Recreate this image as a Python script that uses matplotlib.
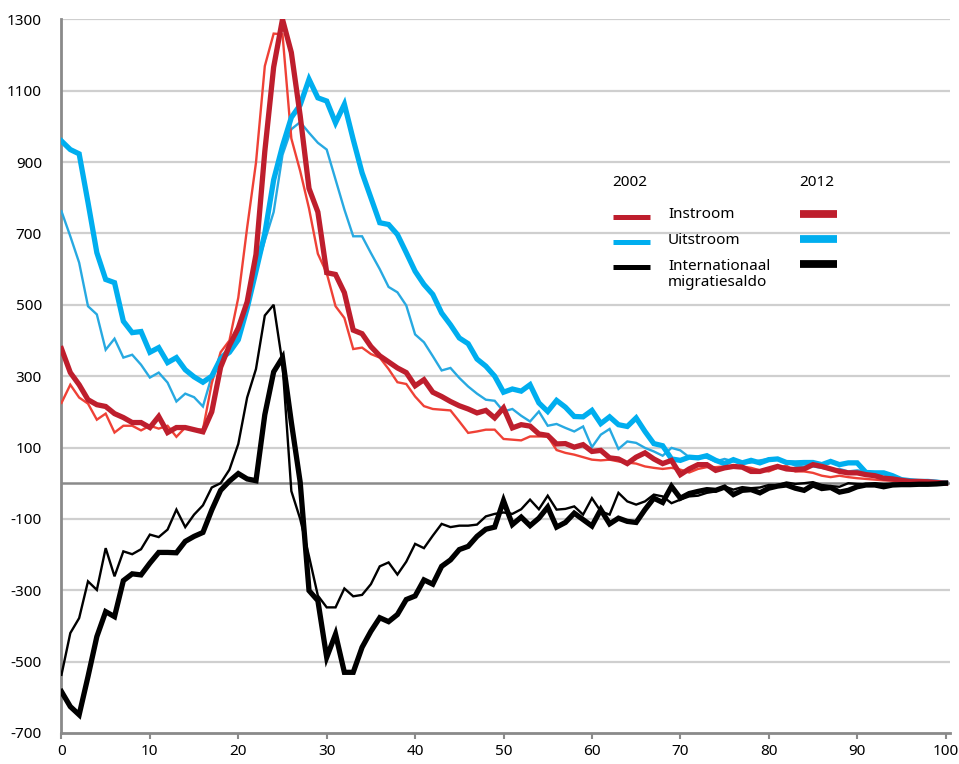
import matplotlib
matplotlib.use("Agg")
import matplotlib.pyplot as plt
from matplotlib.lines import Line2D
import numpy as np

plt.rcParams['font.family'] = ['Noto Sans', 'DejaVu Sans']

ages = list(range(0, 101))

instroom_2002 = [225, 276, 240, 223, 178, 195, 142, 161, 161, 148,
                 161, 153, 161, 130, 156, 150, 150, 280, 367, 400,
                 520, 716, 898, 1169, 1260, 1258, 966, 875, 770, 643,
                 589, 496, 463, 376, 380, 362, 352, 320, 283, 278,
                 243, 216, 208, 206, 204, 173, 141, 145, 150, 150,
                 124, 122, 120, 131, 131, 131, 93, 85, 80, 73,
                 66, 64, 66, 61, 58, 55, 47, 43, 40, 43,
                 38, 30, 40, 45, 45, 47, 45, 47, 43, 36,
                 33, 43, 49, 33, 33, 29, 21, 17, 21, 17,
                 14, 12, 10, 8, 7, 5, 4, 3, 2, 1, 0]

instroom_2012 = [377, 310, 276, 234, 220, 215, 195, 184, 170, 170,
                 156, 187, 142, 156, 156, 150, 144, 200, 325, 386,
                 435, 508, 641, 930, 1166, 1300, 1207, 1030, 826, 760,
                 590, 585, 534, 429, 419, 383, 357, 340, 323, 310,
                 273, 290, 255, 243, 229, 217, 208, 197, 204, 183,
                 211, 155, 164, 160, 138, 134, 110, 111, 101, 108,
                 89, 92, 71, 68, 55, 73, 85, 68, 55, 64,
                 24, 40, 52, 52, 36, 43, 47, 45, 33, 33,
                 40, 47, 40, 38, 40, 52, 47, 40, 33, 29,
                 29, 24, 21, 14, 12, 8, 5, 5, 4, 2, 0]

uitstroom_2002 = [762, 692, 618, 496, 473, 374, 405, 352, 360, 332,
                  296, 310, 282, 229, 251, 241, 215, 300, 355, 380,
                  410, 487, 597, 680, 760, 920, 992, 1012, 982, 954,
                  935, 851, 767, 692, 692, 645, 600, 550, 535, 498,
                  417, 395, 356, 316, 323, 295, 271, 251, 234, 231,
                  201, 208, 189, 173, 201, 161, 166, 155, 145, 159,
                  101, 136, 152, 96, 117, 113, 99, 89, 77, 99,
                  92, 73, 75, 71, 61, 68, 61, 54, 58, 64,
                  68, 66, 61, 49, 47, 47, 43, 38, 40, 33,
                  36, 33, 24, 14, 10, 7, 5, 4, 3, 2, 0]

uitstroom_2012 = [959, 935, 923, 787, 646, 571, 562, 454, 422, 425,
                  367, 380, 338, 352, 318, 298, 283, 300, 349, 367,
                  402, 490, 594, 700, 850, 945, 1025, 1060, 1132, 1080,
                  1071, 1010, 1062, 963, 870, 800, 730, 725, 697, 646,
                  594, 557, 529, 477, 444, 407, 391, 348, 328, 300,
                  255, 264, 258, 276, 225, 201, 232, 213, 187, 186,
                  204, 167, 186, 164, 159, 183, 145, 111, 105, 68,
                  64, 73, 71, 77, 64, 55, 66, 57, 64, 57,
                  66, 68, 58, 57, 58, 58, 52, 61, 52, 57,
                  57, 30, 29, 29, 21, 10, 7, 5, 5, 3, 0]

saldo_2002 = [-537, -420, -378, -275, -299, -182, -261, -191, -199, -185,
              -144, -151, -130, -74, -123, -88, -62, -12, 0, 38,
              110, 240, 320, 470, 500, 335, -22, -100, -205, -315,
              -348, -348, -295, -317, -313, -283, -233, -222, -256, -220,
              -170, -182, -147, -114, -123, -119, -119, -116, -93, -86,
              -82, -86, -73, -46, -73, -35, -74, -72, -65, -88,
              -42, -79, -88, -27, -51, -60, -51, -32, -37, -56,
              -46, -37, -35, -27, -23, -9, -18, -11, -14, -12,
              -5, -5, 2, -2, 0, 3, -5, -8, -10, 0,
              -2, -3, 0, -2, -1, -2, -1, 0, 0, 0, 0]

saldo_2012 = [-584, -626, -649, -542, -430, -360, -374, -273, -254, -257,
              -224, -194, -194, -195, -163, -149, -138, -75, -20, 6,
              27, 12, 7, 192, 312, 352, 171, 3, -301, -329,
              -488, -423, -530, -530, -460, -415, -377, -388, -368, -326,
              -316, -271, -283, -233, -215, -186, -177, -149, -129, -123,
              -49, -116, -95, -119, -98, -67, -123, -110, -84, -102,
              -120, -74, -114, -98, -107, -110, -74, -42, -54, -9,
              -42, -29, -23, -18, -20, -11, -32, -20, -18, -27,
              -14, -8, -5, -14, -20, -5, -15, -12, -25, -20,
              -10, -5, -5, -10, -5, -4, -4, -3, -3, -2, 0]

x_ticks = list(range(0, 101, 10))
y_ticks = list(range(-700, 1301, 200))

legend_years = ["2002", "2012"]
legend_labels = ["Instroom", "Uitstroom", "Internationaal\nmigratiesaldo"]

RED_DARK = "#be1e2d"
RED_LIGHT = "#ef4136"
BLUE = "#00aeef"
BLUE_THIN = "#27a9e1"
BLACK = "#000000"

fig = plt.figure(figsize=(9.59, 7.64), dpi=100)
ax = fig.add_axes([0.0641, 0.0406, 0.9265, 0.9341])

ax.set_xlim(0, 100.5)
ax.set_ylim(-700, 1300)

for y in y_ticks:
    if y in (-700,):
        continue
    ax.axhline(y, color="#cfcfcf", lw=1.6, zorder=1)
ax.axhline(0, color="#8a8a8a", lw=1.8, zorder=1.5)

thin = 1.7
thick = 3.8
ax.plot(ages, uitstroom_2002, color=BLUE_THIN, lw=thin, zorder=3, solid_joinstyle='miter')
ax.plot(ages, instroom_2002, color=RED_LIGHT, lw=thin, zorder=3, solid_joinstyle='miter')
ax.plot(ages, saldo_2002, color=BLACK, lw=thin, zorder=3, solid_joinstyle='miter')
ax.plot(ages, uitstroom_2012, color=BLUE, lw=thick, zorder=4, solid_joinstyle='miter')
ax.plot(ages, instroom_2012, color=RED_DARK, lw=thick, zorder=4, solid_joinstyle='miter')
ax.plot(ages, saldo_2012, color=BLACK, lw=thick, zorder=4, solid_joinstyle='miter')

for s in ["top", "right"]:
    ax.spines[s].set_visible(False)
ax.spines["left"].set_color("#8a8a8a")
ax.spines["left"].set_linewidth(2)
ax.spines["bottom"].set_color("#8a8a8a")
ax.spines["bottom"].set_linewidth(2)
ax.spines["bottom"].set_bounds(0, 100.5)

ax.set_xticks(x_ticks)
ax.set_xticklabels([str(t) for t in x_ticks])
ax.set_yticks(y_ticks)
ax.set_yticklabels([str(t) for t in y_ticks])
ax.tick_params(axis="y", length=0, pad=14, labelsize=11)
ax.tick_params(axis="x", length=4, width=1.5, color="#8a8a8a", pad=4, labelsize=11)
for lab in ax.get_yticklabels():
    lab.set_horizontalalignment("right")

# custom legend (figure pixel coordinates converted to fractions)
W, H = 959, 764
def fx(px):
    return px / W
def fy(py):
    return 1 - py / H

fig.text(fx(630), fy(183), legend_years[0], ha="center", va="center", fontsize=11)
fig.text(fx(817), fy(183), legend_years[1], ha="center", va="center", fontsize=11)
rows_y = [217, 242, 267]
cols_2002 = [RED_DARK, BLUE, BLACK]
for i, (yy, c) in enumerate(zip(rows_y, cols_2002)):
    fig.add_artist(Line2D([fx(613), fx(650)], [fy(yy), fy(yy)], color=c, lw=3.6,
                          solid_capstyle="butt"))
    fig.add_artist(Line2D([fx(800), fx(837)], [fy(yy - 3), fy(yy - 3)], color=c, lw=5.6,
                          solid_capstyle="butt"))
fig.text(fx(668), fy(215), legend_labels[0], ha="left", va="center", fontsize=11)
fig.text(fx(668), fy(241), legend_labels[1], ha="left", va="center", fontsize=11)
fig.text(fx(668), fy(259), legend_labels[2], ha="left", va="top", fontsize=11,
         linespacing=1.05)

fig.savefig("out.png", dpi=100)
